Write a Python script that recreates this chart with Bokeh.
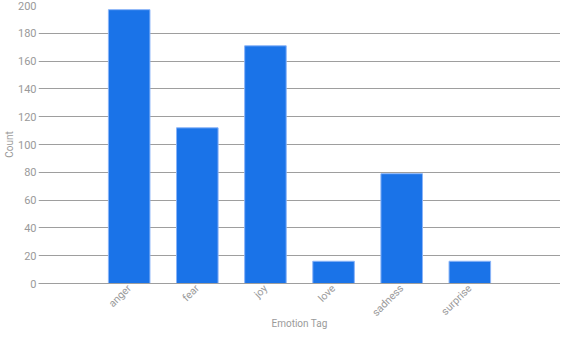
import math
from bokeh.plotting import figure
from bokeh.models import FactorRange, Range1d, ColumnDataSource
from bokeh.embed import file_html
from bokeh.resources import INLINE

categories = ["anger", "fear", "joy", "love", "sadness", "surprise"]
counts = [197, 112, 171, 16, 79, 16]
y_ticks = [0, 20, 40, 60, 80, 100, 120, 140, 160, 180, 200]

src = ColumnDataSource(dict(cat=categories, val=counts))

p = figure(width=560, height=332, output_backend="svg", toolbar_location=None,
           x_range=FactorRange(factors=categories, range_padding=0.277),
           y_range=Range1d(0, 200),
           min_border_left=20, min_border_right=0, min_border_top=5, min_border_bottom=0)
p.outline_line_color = None

p.vbar(x="cat", top="val", width=0.61, source=src, fill_color="#1a73e8",
       line_color="#8ab4f8", line_width=1)

gray = "#9e9e9e"
label_color = "#9a9a9a"

p.yaxis.ticker = y_ticks
p.yaxis.axis_line_color = None
p.yaxis.major_tick_line_color = None
p.yaxis.minor_tick_line_color = None
p.yaxis.major_tick_out = 0
p.yaxis.major_label_text_font = "Roboto"
p.yaxis.major_label_text_font_size = "11px"
p.yaxis.major_label_text_color = label_color
p.yaxis.major_label_standoff = 2
p.yaxis.axis_label = "Count"
p.yaxis.axis_label_text_font = "Roboto"
p.yaxis.axis_label_text_font_style = "normal"
p.yaxis.axis_label_text_font_size = "10px"
p.yaxis.axis_label_text_color = label_color
p.yaxis.axis_label_standoff = 0

p.xaxis.axis_line_color = gray
p.xaxis.major_tick_line_color = None
p.xaxis.minor_tick_line_color = None
p.xaxis.major_tick_out = 0
p.xaxis.major_label_orientation = math.pi / 4
p.xaxis.major_label_text_font = "Roboto"
p.xaxis.major_label_text_font_size = "10.5px"
p.xaxis.major_label_text_color = label_color
p.xaxis.major_label_standoff = 3
p.xaxis.axis_label = "Emotion Tag"
p.xaxis.axis_label_text_font = "Roboto"
p.xaxis.axis_label_text_font_style = "normal"
p.xaxis.axis_label_text_font_size = "10px"
p.xaxis.axis_label_text_color = label_color
p.xaxis.axis_label_standoff = -8

p.xgrid.grid_line_color = None
p.ygrid.grid_line_color = gray
p.ygrid.grid_line_width = 1

open("out.html", "w").write(file_html(p, INLINE))
